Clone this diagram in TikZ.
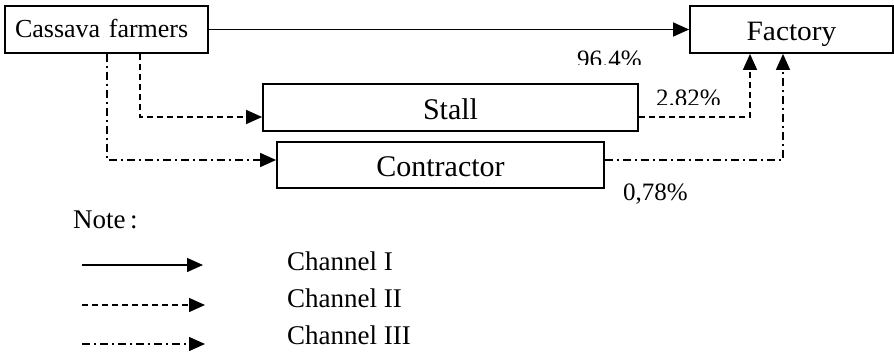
\documentclass[tikz,border=0pt]{standalone}
\usepackage{fontspec}
\setmainfont{Liberation Serif}
\newfontfamily\wide[FakeStretch=1.05]{Liberation Serif}
\usetikzlibrary{arrows.meta}
\tikzset{
  box/.style={draw, line width=1.8pt, inner sep=0pt, minimum height=47pt,
              text height=23pt, text depth=0pt},
  tip/.style={-{Triangle[length=16pt,width=14pt]}},
  flow/.style={line width=1.5pt, tip},
  chone/.style={flow},
  chtwo/.style={flow, dash pattern=on 6pt off 4pt},
  chthree/.style={flow, dash pattern=on 8pt off 4pt on 2pt off 4pt},
  lbl/.style={inner sep=0pt, font=\fontsize{27}{30}\selectfont},
  pct/.style={inner sep=0pt, anchor=base west, font=\fontsize{25}{28}\selectfont},
}
\begin{document}
\begin{tikzpicture}[x=1pt,y=-1pt]
\useasboundingbox (0,0) rectangle (894,353);

% main boxes
\node[box, text width=183pt, inner xsep=10pt, align=left, text height=17pt,
      font=\fontsize{26}{30}\selectfont] (cf) at (106.5,29.5) {Cassava farmers};
\node[box, minimum width=203pt, font=\wide\fontsize{28}{30}\selectfont] (fac) at (791.5,29.5) {Factory};
\node[box, minimum width=375pt, font=\fontsize{30}{32}\selectfont] (stall) at (450.5,107.5) {Stall};
\node[box, minimum width=327pt, minimum height=46pt, font=\fontsize{30}{32}\selectfont] (con) at (440.5,165) {Contractor};

% x positions of the vertical runs
\coordinate (xa) at (107,0);
\coordinate (xb) at (140,0);
\coordinate (xc) at (750,0);
\coordinate (xd) at (783,0);

% channel I
\draw[chone] (cf.east) -- (fac.west);
% channel II
\draw[chtwo] (cf.south -| xb) |- ([yshift=-9.5pt]stall.west);
\draw[chtwo] ([yshift=-9.5pt]stall.east) -| (fac.south -| xc);
% channel III
\draw[chthree] (cf.south -| xa) |- ([yshift=5pt]con.west);
\draw[chthree] ([yshift=5pt]con.east) -| (fac.south -| xd);

% shares
\begin{scope}
  \clip (560,40) rectangle (660,65);
  \node[pct] (p1) at (577,67) {96.4\%};
\end{scope}
\begin{scope}
  \clip (640,80) rectangle (735,104);
  \node[pct] (p2) at (656,106) {2.82\%};
\end{scope}
\node[pct] (p3) at (623,200) {0,78\%};

% legend
\node[lbl, anchor=base west] (note) at (73,228) {Note\,:};
\coordinate (l1a) at (82,265);  \coordinate (l1b) at (203,265);
\coordinate (l2a) at (82,305);  \coordinate (l2b) at (205,305);
\coordinate (l3a) at (82,344);  \coordinate (l3b) at (205,344);
\draw[chone] (l1a) -- (l1b);
\draw[chtwo] (l2a) -- (l2b);
\draw[chthree] (l3a) -- (l3b);
\node[lbl, anchor=base west] (c1) at (287,270) {Channel I};
\node[lbl, anchor=base west] (c2) at (287,307) {Channel II};
\node[lbl, anchor=base west] (c3) at (287,344) {Channel III};
\end{tikzpicture}
\end{document}
